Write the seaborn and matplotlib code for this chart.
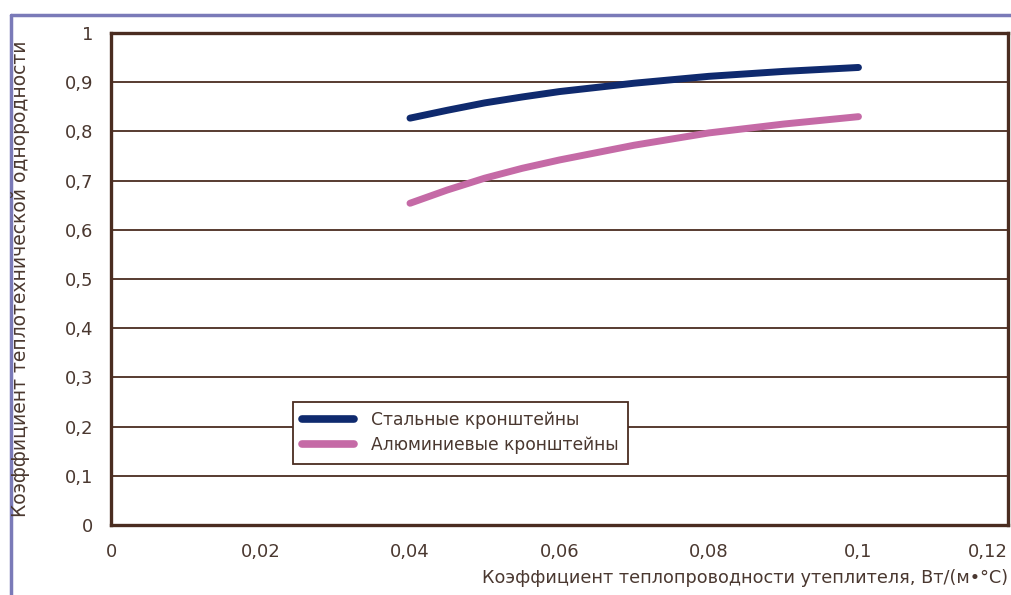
import pandas as pd
import matplotlib.pyplot as plt
import matplotlib.lines as mlines
import seaborn as sns

# data
lam = [0.04, 0.045, 0.05, 0.055, 0.06, 0.07, 0.08, 0.09, 0.1]
steel = [0.827, 0.843, 0.858, 0.870, 0.881, 0.898, 0.912, 0.922, 0.930]
alu = [0.654, 0.681, 0.705, 0.725, 0.742, 0.772, 0.797, 0.815, 0.830]
names = ['Стальные кронштейны', 'Алюминиевые кронштейны']
xticks = [0, 0.02, 0.04, 0.06, 0.08, 0.1, 0.12]
xlabels = ['0', '0,02', '0,04', '0,06', '0,08', '0,1', '0,12']
yticks = [0, 0.1, 0.2, 0.3, 0.4, 0.5, 0.6, 0.7, 0.8, 0.9, 1]
ylabels = ['0', '0,1', '0,2', '0,3', '0,4', '0,5', '0,6', '0,7', '0,8', '0,9', '1']

df = pd.DataFrame({'x': lam * 2, 'y': steel + alu,
                   'kind': [names[0]] * len(lam) + [names[1]] * len(lam)})

sns.set_theme(style='white')
plt.rcParams['font.family'] = ['DejaVu Sans']
brown = '#4a2c20'
txt = '#4a3830'
colors = {names[0]: '#0f2a6e', names[1]: '#c56aa6'}

fig = plt.figure(figsize=(10.11, 5.95), dpi=100)
ax = fig.add_axes([0.1098, 0.1176, 0.8872, 0.8269])

sns.lineplot(data=df, x='x', y='y', hue='kind', palette=colors, ax=ax,
             linewidth=5, solid_capstyle='round', legend=False)

ax.set_xlim(0, 0.12)
ax.set_ylim(0, 1)
ax.set_xticks(xticks)
ax.set_xticklabels(xlabels)
ax.set_yticks(yticks)
ax.set_yticklabels(ylabels)
ax.get_xticklabels()[-1].set_horizontalalignment('right')
ax.get_xticklabels()[-1].set_x(0.1203)
for y in yticks[1:-1]:
    ax.axhline(y, color=brown, lw=1.3, zorder=0)
for s in ax.spines.values():
    s.set_color(brown)
    s.set_linewidth(2.4)
ax.tick_params(axis='both', direction='out', length=7, width=1.3, color=brown,
               labelcolor=txt, labelsize=13, pad=6)
ax.set_xlabel('')
ax.set_ylabel('')

fig.text(0.997, 0.028, 'Коэффициент теплопроводности утеплителя, Вт/(м•°С)',
         ha='right', va='center', color=txt, fontsize=12.7)
fig.text(0.02, 0.531, 'Коэффициент теплотехнической однородности',
         rotation=90, ha='center', va='center', color=txt, fontsize=13.5)

handles = [mlines.Line2D([], [], color=colors[n], lw=5.5, solid_capstyle='round') for n in names]
leg = ax.legend(handles, names, loc='upper left', bbox_to_anchor=(0.203, 0.25),
                frameon=True, fancybox=False, fontsize=12.3, handlelength=3,
                borderpad=0.55, labelspacing=0.4, borderaxespad=0, handletextpad=1.0)
leg.get_frame().set_edgecolor(brown)
leg.get_frame().set_linewidth(1.3)
leg.get_frame().set_alpha(1)
for t in leg.get_texts():
    t.set_color(txt)

# purple frame at top and left
purple = '#7a7ab8'
fig.add_artist(mlines.Line2D([0.0105, 1], [0.974, 0.974], color=purple, lw=2.5,
                             transform=fig.transFigure))
fig.add_artist(mlines.Line2D([0.0105, 0.0105], [0, 0.974], color=purple, lw=2.5,
                             transform=fig.transFigure))

fig.savefig('out.png', dpi=100)
